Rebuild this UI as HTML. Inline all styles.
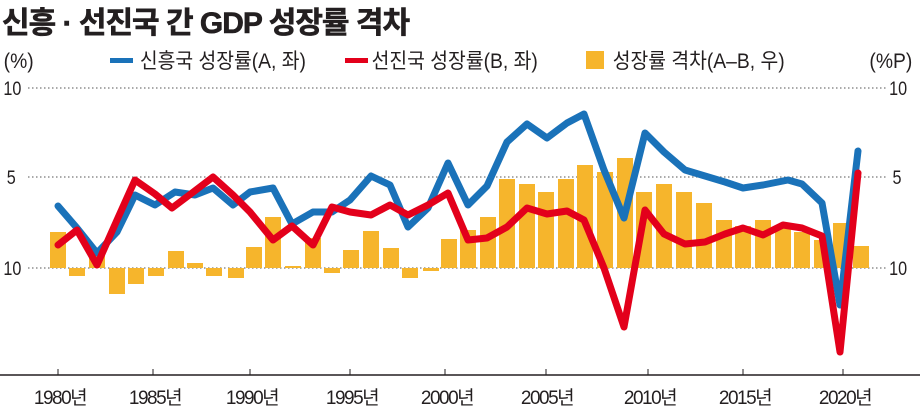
<!DOCTYPE html>
<html><head><meta charset="utf-8"><style>
body{margin:0;background:#fff;}
svg{display:block;font-family:"Liberation Sans","Noto Sans CJK KR",sans-serif;}
</style></head><body>
<svg width="920" height="413" viewBox="0 0 920 413">
<text x="2" y="33" font-size="30" font-weight="bold" fill="#231f20" letter-spacing="-1" stroke="#231f20" stroke-width="0.6">신흥 · 선진국 간 GDP 성장률 격차</text>
<g font-size="21" fill="#231f20" transform="scale(0.92,1)">
<text x="4" y="68">(%)</text>
<text x="152" y="68">신흥국 성장률(A, 좌)</text>
<text x="404" y="68">선진국 성장률(B, 좌)</text>
<text x="666" y="68">성장률 격차(A–B, 우)</text>
<text x="945" y="68">(%P)</text>
</g>
<rect x="110" y="58" width="23" height="5" fill="#1a72b9"/>
<rect x="345" y="58" width="23" height="5" fill="#e3001b"/>
<rect x="586" y="51" width="18" height="18" fill="#f6b52c"/>
<g stroke="#555" stroke-dasharray="1.5,2.5" stroke-width="1">
<line x1="28" y1="88" x2="888" y2="88"/>
<line x1="28" y1="177" x2="888" y2="177"/>
<line x1="28" y1="268" x2="888" y2="268"/>
</g>
<g font-size="19" fill="#231f20" transform="scale(0.85,1)">
<text x="4" y="95">10</text>
<text x="8" y="184">5</text>
<text x="4" y="275">10</text>
<text x="1046" y="95">10</text>
<text x="1050" y="184">5</text>
<text x="1046" y="275">10</text>
</g>
<g fill="#f6b52c">
<rect x="50" y="232" width="16" height="36"/>
<rect x="69" y="268" width="16" height="8"/>
<rect x="89" y="253" width="16" height="15"/>
<rect x="109" y="268" width="16" height="26"/>
<rect x="128" y="268" width="16" height="16"/>
<rect x="148" y="268" width="16" height="8"/>
<rect x="168" y="251" width="16" height="17"/>
<rect x="187" y="263" width="16" height="5"/>
<rect x="206" y="268" width="16" height="8"/>
<rect x="228" y="268" width="16" height="10"/>
<rect x="246" y="247" width="16" height="21"/>
<rect x="265" y="217" width="16" height="51"/>
<rect x="285" y="266" width="16" height="2"/>
<rect x="305" y="238" width="16" height="30"/>
<rect x="324" y="268" width="16" height="5"/>
<rect x="343" y="250" width="16" height="18"/>
<rect x="363" y="231" width="16" height="37"/>
<rect x="383" y="248" width="16" height="20"/>
<rect x="402" y="268" width="16" height="10"/>
<rect x="423" y="268" width="16" height="3"/>
<rect x="441" y="239" width="16" height="29"/>
<rect x="460" y="230" width="16" height="38"/>
<rect x="480" y="217" width="16" height="51"/>
<rect x="499" y="179" width="16" height="89"/>
<rect x="519" y="184" width="16" height="84"/>
<rect x="538" y="192" width="16" height="76"/>
<rect x="558" y="179" width="16" height="89"/>
<rect x="577" y="165" width="16" height="103"/>
<rect x="597" y="172" width="16" height="96"/>
<rect x="617" y="158" width="16" height="110"/>
<rect x="636" y="192" width="16" height="76"/>
<rect x="656" y="184" width="16" height="84"/>
<rect x="676" y="192" width="16" height="76"/>
<rect x="696" y="203" width="16" height="65"/>
<rect x="716" y="220" width="16" height="48"/>
<rect x="735" y="226" width="16" height="42"/>
<rect x="755" y="220" width="16" height="48"/>
<rect x="775" y="228" width="16" height="40"/>
<rect x="794" y="232" width="16" height="36"/>
<rect x="814" y="240" width="16" height="28"/>
<rect x="833" y="223" width="16" height="45"/>
<rect x="853" y="246" width="16" height="22"/>
</g>
<polyline fill="none" stroke="#1a72b9" stroke-width="7" stroke-linejoin="round" stroke-linecap="round" points="58,206 77,228 97,253 117,232 135,195 155,205 175,192 195,195 213,188 233,205 250,192 273,188 292,224 313,212 332,212 350,200 371,176 390,185 408,227 428,208 448,163 468,205 487,186 507,142 527,124 547,138 567,123 584,114 604,170 624,218 645,133 664,152 685,170 705,176 725,182 743,188 763,185 788,180 802,184 822,203 840,305 858,151"/>
<polyline fill="none" stroke="#e3001b" stroke-width="7" stroke-linejoin="round" stroke-linecap="round" points="58,245 77,230 97,265 117,220 135,180 155,194 172,208 192,193 213,177 233,195 250,212 273,240 292,226 313,245 332,207 350,212 371,215 390,205 408,215 428,205 448,193 468,240 487,238 507,227 527,208 547,214 567,211 584,220 604,268 624,327 645,210 664,234 685,244 705,242 725,234 743,228 763,235 783,225 802,228 822,236 840,352 858,173"/>
<line x1="0" y1="375" x2="920" y2="375" stroke="#231f20" stroke-width="1.5"/>
<g stroke="#231f20" stroke-width="1">
<line x1="58" y1="369" x2="58" y2="375"/><line x1="153" y1="369" x2="153" y2="375"/>
<line x1="250" y1="369" x2="250" y2="375"/><line x1="350" y1="369" x2="350" y2="375"/>
<line x1="445" y1="369" x2="445" y2="375"/><line x1="546" y1="369" x2="546" y2="375"/>
<line x1="648" y1="369" x2="648" y2="375"/><line x1="743" y1="369" x2="743" y2="375"/>
<line x1="843" y1="369" x2="843" y2="375"/>
</g>
<g font-size="19" fill="#231f20" text-anchor="middle" letter-spacing="-1.5">
<text x="60" y="404">1980년</text><text x="155" y="404">1985년</text>
<text x="252" y="404">1990년</text><text x="352" y="404">1995년</text>
<text x="447" y="404">2000년</text><text x="547" y="404">2005년</text>
<text x="650" y="404">2010년</text><text x="745" y="404">2015년</text>
<text x="845" y="404">2020년</text>
</g>
</svg>
</body></html>
